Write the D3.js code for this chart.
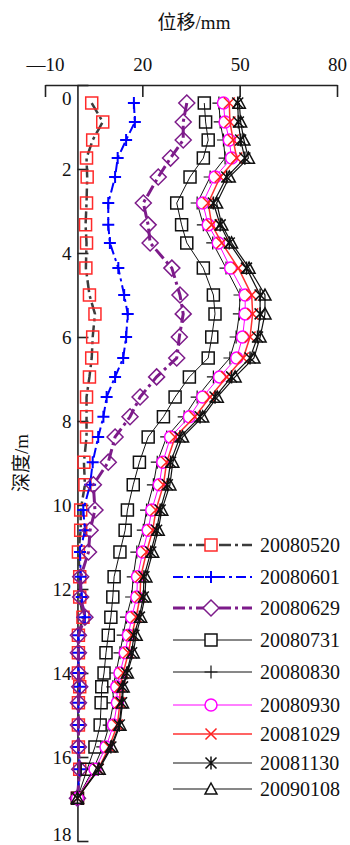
<!DOCTYPE html>
<html>
<head>
<meta charset="utf-8">
<script src="https://cdn.jsdelivr.net/npm/d3@7"></script>
<style>
  body { margin: 0; background: #fff; }
  svg { display: block; }
  text { font-family: "Liberation Serif", "Times New Roman", "Noto Sans CJK SC", serif; fill: #111; }
</style>
</head>
<body>
<div id="chart"></div>
<script>
const width = 350;
const height = 845;

// depth of each reading (m)
const depths = [0.43, 0.88, 1.31, 1.74, 2.19, 2.81, 3.33, 3.76, 4.36, 5.0, 5.45, 6.0, 6.5, 6.95, 7.43, 7.9, 8.38, 8.98,
	9.52, 10.12, 10.6, 11.12, 11.71, 12.19, 12.67, 13.1, 13.52, 14.0, 14.33, 14.71, 15.24, 15.76, 16.29, 16.98];

const dates = ["20080520", "20080601", "20080629", "20080731", "20080830", "20080930", "20081029", "20081130", "20090108"];

// displacement (mm), one array per survey
const s20080520 = [4.4, 7.8, 4.7, 2.8, 3.0, 2.8, 2.5, 2.8, 2.6, 3.7, 5.4, 4.7, 4.4, 3.7, 2.8, 2.8, 2.8, 2.0,
	2.3, 1.0, 1.0, 0.3, 0.7, 0.7, 1.7, 0.3, 0.3, 0.3, 0.7, 0.3, 0.3, 0.3, 0.7, 0];
const s20080601 = [17.4, 17.7, 15.0, 12.4, 11.6, 9.5, 9.5, 10.0, 12.6, 14.4, 15.5, 15.0, 14.1, 11.6, 9.0, 8.0, 6.4, 4.7,
	3.9, 1.8, 2.3, 0.8, 1.0, 1.3, 2.3, 0.3, 0.3, 0.3, 0.7, 0.3, 0.3, 0.3, 0.7, 0];
const s20080629 = [33.7, 32.6, 32.6, 28.7, 24.9, 20.3, 21.8, 22.4, 29.1, 31.6, 32.6, 31.4, 30.6, 24.4, 19.3, 16.2, 11.6, 9.5,
	4.9, 5.4, 3.9, 3.4, 1.0, 1.0, 2.3, 0.3, 0.3, 0.3, 0.7, 0.3, 0.3, 0.3, 0.7, 0];
const s20080731 = [39.1, 39.5, 40.3, 38.8, 34.7, 30.6, 32.1, 33.7, 38.8, 41.9, 42.4, 41.4, 40.3, 34.5, 30.1, 26.5, 21.8, 19.1,
	17.2, 15.4, 14.7, 13.1, 11.3, 10.9, 10.3, 9.5, 8.8, 8.2, 7.5, 7.3, 7.0, 5.4, 3.0, 0];
const s20080830 = [43.6, 44.0, 45.0, 45.5, 40.9, 36.9, 38.8, 41.7, 45.8, 50.1, 49.9, 48.9, 47.0, 41.9, 36.9, 32.9, 27.5, 24.6,
	23.4, 21.3, 20.3, 18.3, 17.2, 16.7, 15.1, 14.1, 13.1, 11.9, 10.9, 11.1, 9.8, 7.8, 4.9, 0];
const s20080930 = [45.0, 45.5, 46.8, 47.5, 42.4, 38.6, 40.3, 43.4, 47.2, 51.7, 51.7, 50.9, 49.1, 43.8, 38.6, 34.5, 28.7, 26.3,
	25.2, 22.9, 21.8, 20.1, 18.5, 18.3, 16.7, 15.7, 14.7, 13.1, 12.1, 12.3, 11.1, 8.8, 5.4, 0];
const s20081029 = [46.8, 47.0, 48.0, 49.1, 44.0, 40.3, 41.4, 44.5, 49.6, 53.7, 54.0, 53.2, 51.1, 46.0, 40.9, 36.2, 30.1, 27.5,
	26.5, 24.2, 23.2, 21.3, 19.5, 19.3, 18.1, 16.7, 15.7, 14.1, 13.1, 13.1, 12.3, 9.8, 6.4, 0];
const s20081130 = [49.4, 49.6, 50.3, 51.6, 46.0, 41.9, 44.0, 46.8, 52.1, 56.3, 56.3, 55.5, 53.2, 47.5, 42.4, 37.8, 31.6, 28.7,
	27.7, 25.5, 24.4, 22.6, 20.5, 20.3, 19.1, 17.4, 16.7, 15.2, 13.9, 13.6, 12.9, 10.3, 6.4, 0];
const s20090108 = [49.9, 50.3, 51.3, 52.7, 46.8, 42.9, 44.5, 47.5, 52.9, 57.8, 57.8, 56.3, 54.4, 48.6, 43.1, 38.6, 32.4, 29.4,
	28.5, 26.0, 24.9, 23.2, 21.1, 20.8, 19.5, 18.1, 17.2, 15.4, 14.1, 13.9, 13.1, 10.6, 6.7, 0];

const xTicks = [-10, 20, 50, 80];
const yTicks = [0, 2, 4, 6, 8, 10, 12, 14, 16, 18];

const allSeries = [s20080520, s20080601, s20080629, s20080731, s20080830, s20080930, s20081029, s20081130, s20090108];

// drawing style for each survey
const STYLES = [
	{ line: "#3c3c3c", lw: 2.5, dash: "12,4,3,4", marker: "square", mc: "#ff2a2a", mw: 1.5, ms: 6 },
	{ line: "#0000ff", lw: 2, dash: "10,4,3,4", marker: "plus", mc: "#0000ff", mw: 2, ms: 6 },
	{ line: "#7d1b8a", lw: 3, dash: "12,4,3,4", marker: "diamond", mc: "#7d1b8a", mw: 1.5, ms: 8 },
	{ line: "#111", lw: 1, dash: null, marker: "square", mc: "#111", mw: 1.5, ms: 6 },
	{ line: "#111", lw: 1, dash: null, marker: "plus", mc: "#111", mw: 1.2, ms: 6.5 },
	{ line: "#ff00ff", lw: 1, dash: null, marker: "circle", mc: "#ff00ff", mw: 1.5, ms: 6 },
	{ line: "#ff3030", lw: 1.5, dash: null, marker: "x", mc: "#ff2020", mw: 1.5, ms: 5.5 },
	{ line: "#111", lw: 1.2, dash: null, marker: "asterisk", mc: "#111", mw: 1.5, ms: 5.5 },
	{ line: "#111", lw: 1.2, dash: null, marker: "triangle", mc: "#111", mw: 1.5, ms: 6 },
];

const legendRows = [545, 577, 608, 640, 672, 705, 734, 763, 789];

function markerPath(type, s) {
	switch (type) {
		case "square": return `M${-s},${-s}h${2 * s}v${2 * s}h${-2 * s}Z`;
		case "diamond": return `M0,${-s}L${s},0L0,${s}L${-s},0Z`;
		case "plus": return `M${-s},0H${s}M0,${-s}V${s}`;
		case "circle": return `M${s},0A${s},${s} 0 1,1 ${-s},0A${s},${s} 0 1,1 ${s},0Z`;
		case "x": return `M${-s},${-s}L${s},${s}M${-s},${s}L${s},${-s}`;
		case "asterisk": return `M${-s},${-s}L${s},${s}M${-s},${s}L${s},${-s}M0,${-s * 1.2}V${s * 1.2}`;
		case "triangle": return `M0,${-s}L${s},${s * 0.85}L${-s},${s * 0.85}Z`;
	}
}

const svg = d3
	.select("#chart")
	.append("svg")
	.attr("width", width)
	.attr("height", height);

svg.append("rect").attr("width", width).attr("height", height).attr("fill", "#fff");

const x = d3.scaleLinear().domain([-10, 80]).range([45, 337]);
const y = d3.scaleLinear().domain([0, 18]).range([85, 841]);

// top axis
const xAxis = svg
	.append("g")
	.attr("transform", `translate(0,${y(0)})`)
	.call(
		d3.axisTop(x)
			.tickValues(xTicks)
			.tickSizeInner(-12)
			.tickSizeOuter(0)
			.tickPadding(14)
			.tickFormat((d) => (d < 0 ? "\u2014" + Math.abs(d) : d))
	);
xAxis.attr("font-family", null);
xAxis.select(".domain").attr("stroke", "#222").attr("stroke-width", 1.6);
xAxis.selectAll(".tick line").attr("stroke", "#222").attr("stroke-width", 1.6);
xAxis.selectAll(".tick text").attr("font-size", 19).attr("fill", "#111");

// left axis sits at zero displacement
const yAxis = svg
	.append("g")
	.attr("transform", `translate(${x(0)},0)`)
	.call(
		d3.axisLeft(y)
			.tickValues(yTicks)
			.tickSizeInner(-11)
			.tickSizeOuter(0)
			.tickPadding(6)
	);
yAxis.attr("font-family", null);
yAxis.select(".domain").attr("stroke", "#222").attr("stroke-width", 1.6);
yAxis.selectAll(".tick line").attr("stroke", "#222").attr("stroke-width", 1.6);
yAxis.selectAll(".tick text")
	.attr("font-size", 19)
	.attr("fill", "#111")
	.attr("dy", (d) => (d === 0 ? "1.05em" : d === 18 ? "-0.05em" : "0.32em"));

// titles
svg.append("text")
	.attr("x", 194)
	.attr("y", 29)
	.attr("text-anchor", "middle")
	.attr("font-size", 19)
	.text("位移/mm");

svg.append("text")
	.attr("transform", "translate(28,463) rotate(-90)")
	.attr("text-anchor", "middle")
	.attr("font-size", 19)
	.text("深度/m");

const line = d3
	.line()
	.x((d) => x(d.v))
	.y((d) => y(d.d));

allSeries.forEach((vals, i) => {
	const st = STYLES[i];
	const pts = vals.map((v, k) => ({ v: v, d: depths[k] }));
	const g = svg.append("g").attr("class", "series-" + dates[i]);

	g.append("path")
		.datum(pts)
		.attr("d", line)
		.attr("fill", "none")
		.attr("stroke", st.line)
		.attr("stroke-width", st.lw)
		.attr("stroke-dasharray", st.dash);

	g.selectAll(".mk")
		.data(pts)
		.join("path")
		.attr("class", "mk")
		.attr("transform", (d) => `translate(${x(d.v)},${y(d.d)})`)
		.attr("d", markerPath(st.marker, st.ms))
		.attr("fill", st.marker === "circle" ? "#fff" : "none")
		.attr("stroke", st.mc)
		.attr("stroke-width", st.mw);
});

// legend
const legend = svg.append("g").attr("class", "legend");
dates.forEach((name, i) => {
	const st = STYLES[i];
	const ly = legendRows[i];
	legend.append("line")
		.attr("x1", 173).attr("x2", 252)
		.attr("y1", ly).attr("y2", ly)
		.attr("stroke", st.line)
		.attr("stroke-width", st.lw)
		.attr("stroke-dasharray", st.dash);
	legend.append("path")
		.attr("transform", `translate(211,${ly})`)
		.attr("d", markerPath(st.marker, st.ms))
		.attr("fill", st.marker === "plus" || st.marker === "x" || st.marker === "asterisk" ? "none" : "#fff")
		.attr("stroke", st.mc)
		.attr("stroke-width", st.mw);
	legend.append("text")
		.attr("x", 260)
		.attr("y", ly + 7)
		.attr("font-size", 20)
		.text(name);
});
</script>
</body>
</html>
